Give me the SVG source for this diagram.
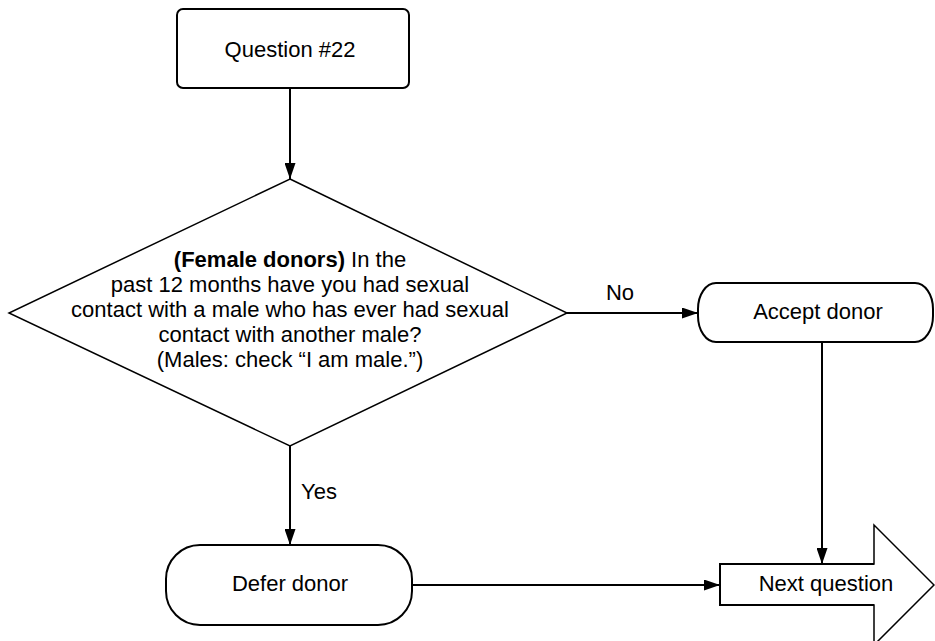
<svg xmlns="http://www.w3.org/2000/svg" width="935" height="641" viewBox="0 0 935 641">
  <style>
    .shape { fill: #ffffff; stroke: #000000; stroke-width: 2; }
    .thin { fill: #ffffff; stroke: #000000; stroke-width: 1.5; }
    .edge { fill: none; stroke: #000000; stroke-width: 2; }
    .label { font-family: "Liberation Sans", Arial, sans-serif; font-size: 22px; fill: #000000; text-anchor: middle; }
    .start { text-anchor: start; }
    .bold { font-weight: bold; }
  </style>
  <defs>
    <marker id="arrow" viewBox="0 0 16 11" refX="16" refY="5.5" markerWidth="16" markerHeight="11" markerUnits="userSpaceOnUse" orient="auto">
      <path d="M0,0 L16,5.5 L0,11 Z" fill="#000000"/>
    </marker>
  </defs>

  <rect width="935" height="641" fill="#ffffff"/>

  <!-- connectors -->
  <g id="connectors">
    <line class="edge" x1="290" y1="88" x2="290" y2="179" marker-end="url(#arrow)"/>
    <line class="edge" x1="567" y1="313" x2="698" y2="313" marker-end="url(#arrow)"/>
    <line class="edge" x1="290" y1="446" x2="290" y2="545" marker-end="url(#arrow)"/>
    <line class="edge" x1="822" y1="342" x2="822" y2="564" marker-end="url(#arrow)"/>
    <line class="edge" x1="412" y1="585" x2="720" y2="585" marker-end="url(#arrow)"/>
    <text class="label" x="620" y="300">No</text>
    <text class="label start" x="301" y="499">Yes</text>
  </g>

  <!-- start: question box -->
  <g id="question">
    <rect class="shape" x="177" y="9" width="232" height="79" rx="6" ry="6"/>
    <text class="label" x="290" y="57">Question #22</text>
  </g>

  <!-- decision -->
  <g id="decision">
    <polygon class="thin" points="290,179 567,313 290,446 9,313"/>
    <text class="label" x="290" y="267"><tspan class="bold">(Female donors)</tspan> In the</text>
    <text class="label" x="290" y="292">past 12 months have you had sexual</text>
    <text class="label" x="290" y="317">contact with a male who has ever had sexual</text>
    <text class="label" x="290" y="342">contact with another male?</text>
    <text class="label" x="290" y="367">(Males: check “I am male.”)</text>
  </g>

  <!-- outcome: accept -->
  <g id="accept">
    <rect class="shape" x="698" y="283" width="235" height="59" rx="18" ry="26"/>
    <text class="label" x="818" y="319">Accept donor</text>
  </g>

  <!-- outcome: defer -->
  <g id="defer">
    <rect class="shape" x="166" y="545" width="246" height="80" rx="34" ry="34"/>
    <text class="label" x="290" y="591">Defer donor</text>
  </g>

  <!-- next question block arrow -->
  <g id="next">
    <path class="thin" d="M720,564 H874 V525 L934,585 L874,645 V605 H720 Z"/>
    <path class="edge" d="M874,564 H720 V605 H874"/>
    <text class="label" x="826" y="591">Next question</text>
  </g>
</svg>
